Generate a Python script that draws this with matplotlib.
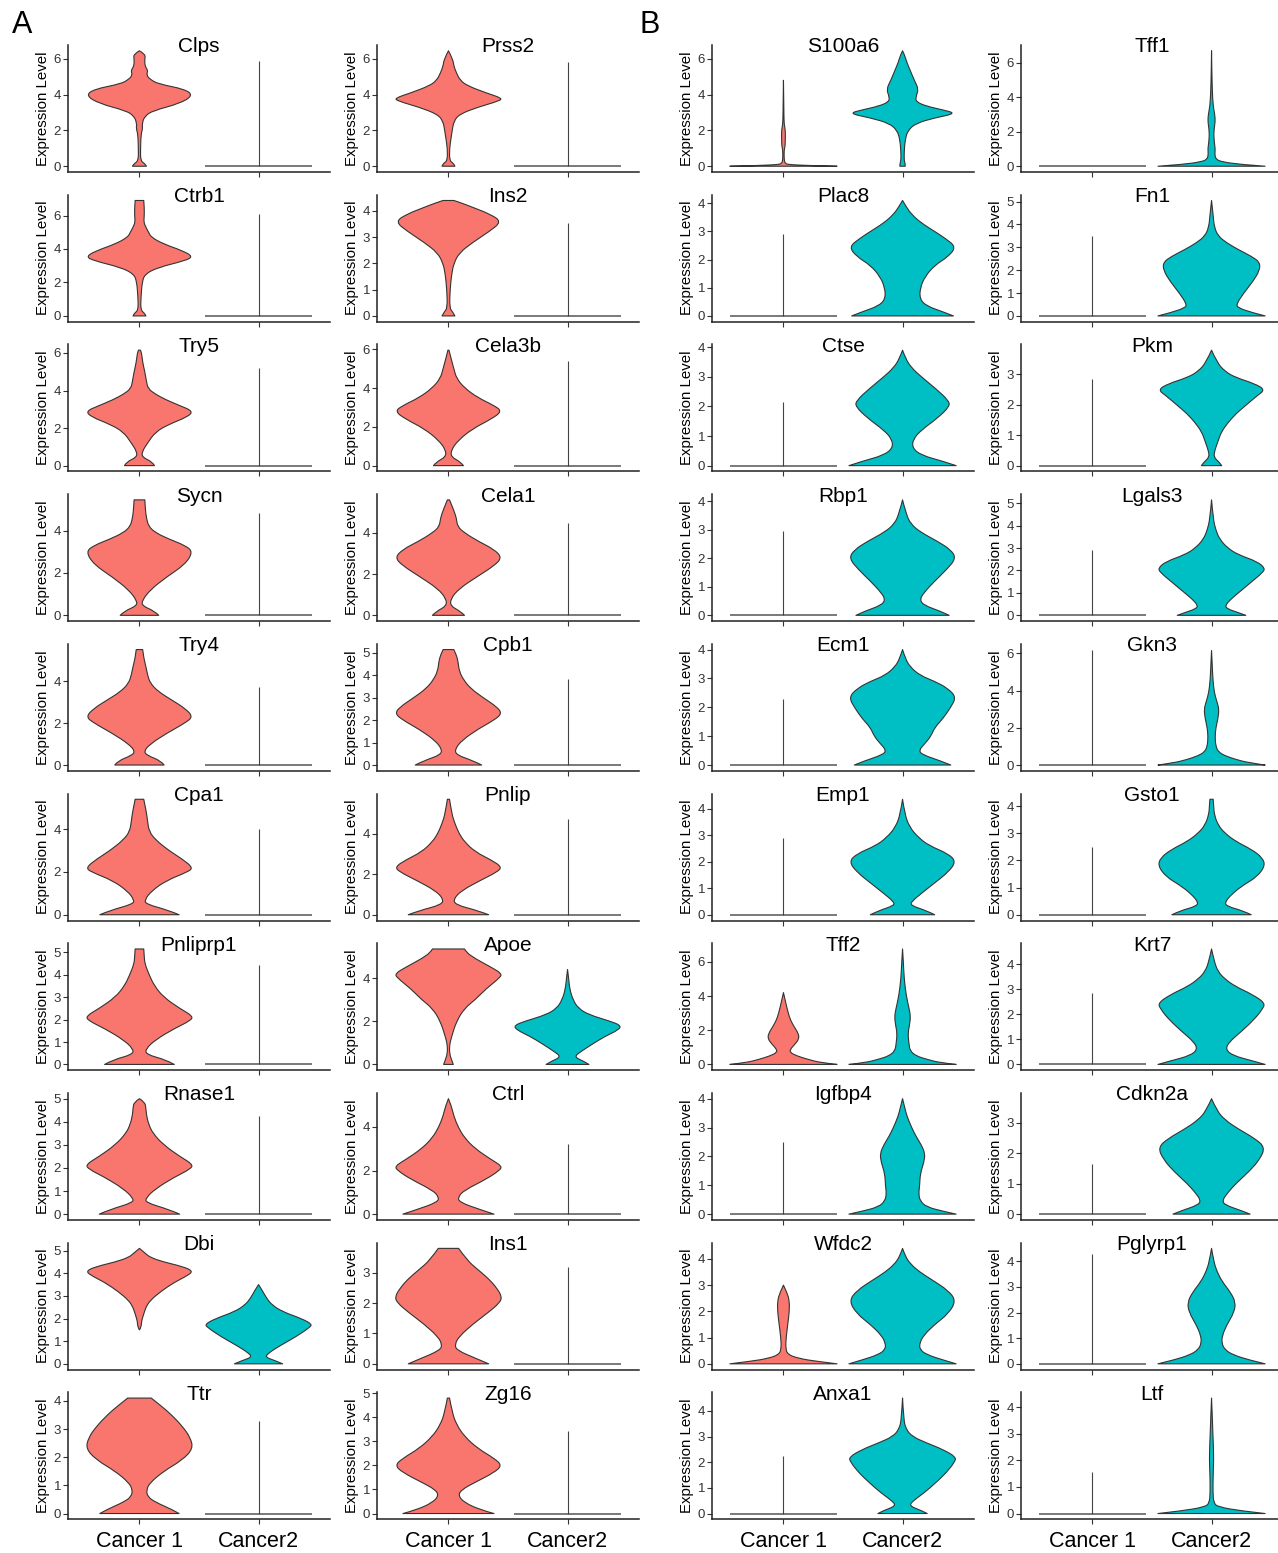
import numpy as np
import matplotlib
matplotlib.use("Agg")
import matplotlib.pyplot as plt
from matplotlib.path import Path
from matplotlib.patches import PathPatch

plt.rcParams["font.family"] = ["Liberation Sans", "DejaVu Sans"]

groups = ["Cancer 1", "Cancer2"]
red = "#F8766D"
teal = "#00BFC4"

# panel columns, top to bottom
col_a1 = ["Clps", "Ctrb1", "Try5", "Sycn", "Try4", "Cpa1", "Pnliprp1", "Rnase1", "Dbi", "Ttr"]
col_a2 = ["Prss2", "Ins2", "Cela3b", "Cela1", "Cpb1", "Pnlip", "Apoe", "Ctrl", "Ins1", "Zg16"]
col_b1 = ["S100a6", "Plac8", "Ctse", "Rbp1", "Ecm1", "Emp1", "Tff2", "Igfbp4", "Wfdc2", "Anxa1"]
col_b2 = ["Tff1", "Fn1", "Pkm", "Lgals3", "Gkn3", "Gsto1", "Krt7", "Cdkn2a", "Pglyrp1", "Ltf"]

# y tick step per panel
step_a1 = [2, 2, 2, 2, 2, 2, 1, 1, 1, 1]
step_a2 = [2, 1, 2, 2, 1, 2, 2, 2, 1, 1]
step_b1 = [2, 1, 1, 1, 1, 1, 2, 1, 1, 1]
step_b2 = [2, 1, 1, 1, 2, 1, 1, 1, 1, 1]

# violin outlines: (expression level, relative half width)
cancer1_shapes = {
    "Clps": [(0, 0.13), (0.12, 0.11), (0.3, 0.02), (1.0, 0.02), (1.8, 0.03), (2.1, 0.06), (2.4, 0.05),
             (2.8, 0.1), (3.1, 0.25), (3.5, 0.75), (3.95, 1.0), (4.3, 0.85), (4.6, 0.35), (4.85, 0.2),
             (5.1, 0.13), (5.35, 0.16), (5.6, 0.1), (6.0, 0.1), (6.25, 0.11), (6.45, 0.0)],
    "Ctrb1": [(0, 0.12), (0.15, 0.1), (0.35, 0.02), (1.2, 0.03), (2.0, 0.05), (2.5, 0.1), (2.9, 0.35),
              (3.3, 0.85), (3.55, 1.0), (3.9, 0.8), (4.3, 0.45), (4.7, 0.22), (5.0, 0.17), (5.3, 0.12),
              (5.6, 0.08), (6.0, 0.09), (6.5, 0.09), (6.9, 0.08)],
    "Try5": [(0, 0.28), (0.2, 0.24), (0.45, 0.05), (0.75, 0.05), (1.2, 0.15), (1.8, 0.3), (2.2, 0.55),
             (2.6, 0.9), (2.9, 1.0), (3.2, 0.75), (3.5, 0.5), (3.8, 0.3), (4.1, 0.16), (4.5, 0.13),
             (5.0, 0.1), (5.5, 0.06), (6.0, 0.04), (6.15, 0.02)],
    "Sycn": [(0, 0.36), (0.2, 0.28), (0.45, 0.05), (0.7, 0.05), (1.2, 0.2), (1.8, 0.5), (2.4, 0.85),
             (3.0, 1.0), (3.3, 0.85), (3.6, 0.55), (3.9, 0.3), (4.2, 0.17), (4.6, 0.13), (5.0, 0.11),
             (5.45, 0.1)],
    "Try4": [(0, 0.46), (0.2, 0.4), (0.45, 0.15), (0.65, 0.08), (1.0, 0.2), (1.5, 0.5), (2.0, 0.85),
             (2.3, 1.0), (2.7, 0.85), (3.1, 0.6), (3.5, 0.35), (3.9, 0.2), (4.3, 0.15), (4.7, 0.12),
             (5.1, 0.08), (5.5, 0.06)],
    "Cpa1": [(0, 0.74), (0.2, 0.55), (0.5, 0.12), (0.7, 0.1), (1.1, 0.22), (1.6, 0.5), (2.0, 0.9),
             (2.2, 1.0), (2.6, 0.8), (3.0, 0.55), (3.5, 0.3), (3.9, 0.18), (4.4, 0.15), (4.8, 0.13),
             (5.4, 0.08)],
    "Pnliprp1": [(0, 0.65), (0.2, 0.5), (0.45, 0.12), (0.7, 0.12), (1.1, 0.3), (1.6, 0.65), (1.95, 0.95),
                 (2.15, 1.0), (2.5, 0.75), (3.0, 0.45), (3.5, 0.28), (4.0, 0.18), (4.5, 0.1), (4.8, 0.09),
                 (5.15, 0.08)],
    "Rnase1": [(0, 0.75), (0.2, 0.55), (0.5, 0.12), (0.7, 0.12), (1.1, 0.3), (1.6, 0.65), (1.95, 0.95),
               (2.15, 1.0), (2.5, 0.75), (3.0, 0.45), (3.5, 0.25), (3.9, 0.17), (4.3, 0.13), (4.6, 0.12),
               (4.85, 0.1), (5.0, 0.0)],
    "Dbi": [(1.5, 0.0), (1.6, 0.03), (1.9, 0.04), (2.2, 0.08), (2.5, 0.12), (2.8, 0.2), (3.2, 0.4),
            (3.6, 0.65), (3.9, 0.9), (4.1, 1.0), (4.3, 0.8), (4.5, 0.45), (4.7, 0.2), (4.9, 0.1), (5.1, 0.0)],
    "Ttr": [(0, 0.74), (0.15, 0.6), (0.4, 0.3), (0.6, 0.15), (0.85, 0.13), (1.1, 0.2), (1.5, 0.45),
            (1.9, 0.8), (2.3, 1.0), (2.7, 0.95), (3.1, 0.8), (3.5, 0.6), (3.8, 0.42), (4.1, 0.22)],
    "Prss2": [(0, 0.12), (0.15, 0.1), (0.3, 0.02), (1.0, 0.02), (1.6, 0.05), (2.0, 0.07), (2.5, 0.1),
              (2.9, 0.2), (3.3, 0.55), (3.65, 0.95), (3.8, 1.0), (4.1, 0.7), (4.5, 0.35), (4.8, 0.22),
              (5.2, 0.15), (5.6, 0.1), (6.0, 0.08), (6.45, 0.0)],
    "Ins2": [(0, 0.12), (0.15, 0.08), (0.3, 0.02), (1.0, 0.03), (1.6, 0.06), (2.0, 0.1), (2.4, 0.2),
             (2.8, 0.45), (3.2, 0.75), (3.6, 1.0), (3.9, 0.75), (4.1, 0.5), (4.3, 0.25), (4.4, 0.1)],
    "Cela3b": [(0, 0.28), (0.2, 0.22), (0.45, 0.05), (0.8, 0.05), (1.3, 0.18), (1.9, 0.45), (2.4, 0.8),
               (2.8, 1.0), (3.1, 0.85), (3.5, 0.55), (4.0, 0.3), (4.5, 0.15), (5.0, 0.1), (5.5, 0.05),
               (5.95, 0.01)],
    "Cela1": [(0, 0.3), (0.2, 0.22), (0.45, 0.04), (0.8, 0.04), (1.3, 0.2), (1.9, 0.55), (2.4, 0.85),
              (2.8, 1.0), (3.2, 0.85), (3.6, 0.55), (4.0, 0.3), (4.3, 0.17), (4.7, 0.15), (5.1, 0.1),
              (5.6, 0.02)],
    "Cpb1": [(0, 0.62), (0.2, 0.45), (0.45, 0.15), (0.7, 0.12), (1.1, 0.25), (1.6, 0.55), (2.0, 0.85),
             (2.3, 1.0), (2.6, 0.9), (3.0, 0.65), (3.4, 0.42), (3.8, 0.28), (4.2, 0.2), (4.6, 0.18),
             (4.9, 0.15), (5.15, 0.1)],
    "Pnlip": [(0, 0.75), (0.2, 0.55), (0.5, 0.12), (0.8, 0.1), (1.2, 0.25), (1.7, 0.6), (2.1, 0.9),
              (2.35, 1.0), (2.7, 0.8), (3.1, 0.5), (3.6, 0.3), (4.0, 0.2), (4.5, 0.12), (5.0, 0.06),
              (5.7, 0.02)],
    "Apoe": [(0, 0.09), (0.2, 0.06), (0.5, 0.02), (0.9, 0.02), (1.3, 0.06), (2.0, 0.15), (2.6, 0.3),
             (3.0, 0.5), (3.5, 0.7), (4.0, 0.95), (4.2, 1.0), (4.5, 0.8), (4.9, 0.5), (5.2, 0.33),
             (5.35, 0.3)],
    "Ctrl": [(0, 0.85), (0.2, 0.6), (0.55, 0.2), (0.8, 0.18), (1.1, 0.3), (1.6, 0.7), (2.0, 0.95),
             (2.2, 1.0), (2.5, 0.8), (3.0, 0.5), (3.5, 0.3), (4.0, 0.18), (4.5, 0.1), (5.0, 0.05),
             (5.3, 0.0)],
    "Ins1": [(0, 0.75), (0.15, 0.55), (0.45, 0.15), (0.65, 0.12), (0.9, 0.2), (1.3, 0.45), (1.7, 0.75),
             (2.0, 0.95), (2.2, 1.0), (2.5, 0.9), (2.8, 0.75), (3.1, 0.55), (3.4, 0.35), (3.8, 0.19)],
    "Zg16": [(0, 0.85), (0.15, 0.6), (0.45, 0.3), (0.75, 0.18), (1.0, 0.25), (1.3, 0.5), (1.7, 0.85),
             (2.0, 1.0), (2.3, 0.85), (2.7, 0.55), (3.2, 0.3), (3.7, 0.15), (4.2, 0.07), (4.8, 0.02)],
    "S100a6": [(0, 1.0), (0.04, 0.45), (0.09, 0.12), (0.14, 0.03), (0.4, 0.012), (0.9, 0.012),
               (1.1, 0.03), (1.5, 0.035), (2.0, 0.035), (2.25, 0.02), (2.5, 0.01), (3.5, 0.006), (4.8, 0.0)],
    "Tff2": [(0, 1.0), (0.1, 0.7), (0.3, 0.45), (0.5, 0.25), (0.7, 0.12), (0.9, 0.13), (1.2, 0.22),
             (1.5, 0.29), (1.8, 0.28), (2.2, 0.2), (2.6, 0.13), (3.0, 0.09), (3.5, 0.05), (4.2, 0.0)],
    "Wfdc2": [(0, 1.0), (0.1, 0.6), (0.2, 0.3), (0.35, 0.08), (0.6, 0.04), (1.0, 0.05), (1.5, 0.08),
              (2.0, 0.11), (2.4, 0.11), (2.7, 0.07), (3.0, 0.0)],
}

cancer2_shapes = {
    "Dbi": [(0, 0.45), (0.15, 0.3), (0.3, 0.12), (0.5, 0.2), (0.8, 0.4), (1.2, 0.7), (1.6, 0.95),
            (1.75, 1.0), (2.0, 0.8), (2.3, 0.45), (2.6, 0.25), (2.9, 0.15), (3.2, 0.08), (3.5, 0.0)],
    "Apoe": [(0, 0.4), (0.15, 0.3), (0.35, 0.12), (0.6, 0.25), (1.0, 0.5), (1.3, 0.7), (1.6, 0.95),
             (1.8, 1.0), (2.0, 0.8), (2.3, 0.4), (2.6, 0.2), (3.0, 0.1), (3.5, 0.04), (4.0, 0.02), (4.4, 0.0)],
    "S100a6": [(0, 0.05), (0.15, 0.05), (0.3, 0.03), (0.8, 0.03), (1.5, 0.05), (2.0, 0.1), (2.4, 0.25),
               (2.7, 0.6), (2.95, 1.0), (3.15, 0.75), (3.35, 0.45), (3.6, 0.25), (3.9, 0.25), (4.3, 0.3),
               (4.8, 0.22), (5.3, 0.15), (5.8, 0.08), (6.2, 0.04), (6.45, 0.0)],
    "Plac8": [(0, 0.95), (0.15, 0.75), (0.35, 0.45), (0.6, 0.32), (1.0, 0.33), (1.4, 0.42), (1.8, 0.6),
              (2.1, 0.85), (2.45, 1.0), (2.75, 0.8), (3.0, 0.6), (3.3, 0.35), (3.6, 0.17), (3.9, 0.06),
              (4.1, 0.0)],
    "Ctse": [(0, 1.0), (0.15, 0.75), (0.35, 0.35), (0.6, 0.18), (0.9, 0.2), (1.2, 0.35), (1.6, 0.65),
             (2.0, 0.88), (2.2, 0.86), (2.6, 0.62), (3.0, 0.35), (3.3, 0.17), (3.6, 0.06), (3.9, 0.0)],
    "Rbp1": [(0, 0.87), (0.15, 0.7), (0.35, 0.4), (0.55, 0.32), (0.8, 0.4), (1.2, 0.6), (1.6, 0.82),
             (2.0, 1.0), (2.3, 0.9), (2.6, 0.65), (2.9, 0.35), (3.2, 0.15), (3.6, 0.06), (4.05, 0.0)],
    "Ecm1": [(0, 0.9), (0.15, 0.7), (0.35, 0.38), (0.5, 0.3), (0.75, 0.42), (1.0, 0.53), (1.3, 0.6),
             (1.6, 0.75), (2.0, 0.9), (2.35, 1.0), (2.65, 0.85), (2.9, 0.6), (3.1, 0.33), (3.4, 0.14),
             (3.7, 0.05), (4.0, 0.0)],
    "Emp1": [(0, 0.6), (0.15, 0.45), (0.35, 0.15), (0.5, 0.17), (0.8, 0.35), (1.2, 0.6), (1.6, 0.85),
             (2.0, 1.0), (2.3, 0.85), (2.6, 0.5), (2.9, 0.3), (3.3, 0.13), (3.8, 0.04), (4.35, 0.0)],
    "Tff2": [(0, 1.0), (0.1, 0.7), (0.3, 0.45), (0.5, 0.25), (0.8, 0.14), (1.2, 0.12), (1.8, 0.1),
             (2.3, 0.13), (2.8, 0.15), (3.3, 0.12), (4.0, 0.07), (5.0, 0.03), (6.0, 0.015), (6.75, 0.0)],
    "Igfbp4": [(0, 1.0), (0.1, 0.75), (0.25, 0.45), (0.45, 0.33), (0.7, 0.3), (1.0, 0.32), (1.4, 0.33),
               (1.8, 0.4), (2.1, 0.42), (2.4, 0.35), (2.7, 0.25), (3.0, 0.17), (3.4, 0.08), (3.7, 0.04),
               (4.0, 0.0)],
    "Wfdc2": [(0, 1.0), (0.15, 0.75), (0.35, 0.45), (0.55, 0.32), (0.8, 0.32), (1.1, 0.4), (1.5, 0.6),
              (1.9, 0.85), (2.4, 1.0), (2.8, 0.85), (3.2, 0.55), (3.5, 0.32), (3.8, 0.15), (4.1, 0.05),
              (4.4, 0.0)],
    "Anxa1": [(0, 0.46), (0.12, 0.35), (0.3, 0.12), (0.5, 0.2), (0.8, 0.4), (1.2, 0.62), (1.6, 0.82),
              (2.0, 0.97), (2.2, 1.0), (2.5, 0.75), (2.75, 0.45), (3.0, 0.18), (3.3, 0.06), (3.7, 0.02),
              (4.5, 0.0)],
    "Tff1": [(0, 1.0), (0.1, 0.55), (0.25, 0.2), (0.4, 0.08), (0.7, 0.06), (1.0, 0.07), (1.4, 0.05),
             (2.0, 0.04), (2.6, 0.07), (3.0, 0.06), (3.5, 0.03), (4.3, 0.015), (5.5, 0.005), (6.7, 0.0)],
    "Fn1": [(0, 1.0), (0.15, 0.75), (0.35, 0.5), (0.5, 0.46), (1.0, 0.6), (1.5, 0.77), (2.0, 0.9),
            (2.35, 0.9), (2.6, 0.75), (2.9, 0.5), (3.2, 0.28), (3.5, 0.12), (3.9, 0.05), (4.4, 0.03),
            (5.05, 0.0)],
    "Pkm": [(0, 0.19), (0.12, 0.14), (0.28, 0.04), (0.5, 0.06), (0.8, 0.12), (1.1, 0.18), (1.4, 0.3),
            (1.7, 0.45), (2.0, 0.65), (2.3, 0.85), (2.5, 1.0), (2.7, 0.8), (2.9, 0.45), (3.1, 0.25),
            (3.4, 0.1), (3.8, 0.0)],
    "Lgals3": [(0, 0.64), (0.12, 0.5), (0.3, 0.28), (0.45, 0.26), (0.7, 0.35), (1.1, 0.55), (1.5, 0.75),
               (1.9, 0.95), (2.1, 1.0), (2.4, 0.85), (2.7, 0.5), (3.0, 0.3), (3.4, 0.15), (3.8, 0.08),
               (4.3, 0.03), (5.15, 0.0)],
    "Gkn3": [(0, 1.0), (0.12, 0.7), (0.3, 0.45), (0.5, 0.25), (0.7, 0.13), (1.0, 0.08), (1.5, 0.065),
             (2.0, 0.08), (2.5, 0.12), (3.0, 0.14), (3.4, 0.1), (3.9, 0.05), (4.6, 0.025), (5.4, 0.012),
             (6.15, 0.0)],
    "Gsto1": [(0, 0.74), (0.15, 0.58), (0.3, 0.3), (0.45, 0.24), (0.8, 0.4), (1.1, 0.6), (1.4, 0.85),
              (1.8, 1.0), (2.1, 0.95), (2.4, 0.75), (2.7, 0.45), (3.0, 0.25), (3.3, 0.12), (3.7, 0.05),
              (4.0, 0.04), (4.25, 0.03)],
    "Krt7": [(0, 1.0), (0.15, 0.75), (0.35, 0.4), (0.6, 0.26), (0.9, 0.33), (1.3, 0.55), (1.8, 0.8),
             (2.2, 0.95), (2.45, 1.0), (2.8, 0.75), (3.1, 0.45), (3.4, 0.25), (3.7, 0.12), (4.1, 0.05),
             (4.6, 0.0)],
    "Cdkn2a": [(0, 0.72), (0.12, 0.55), (0.3, 0.25), (0.45, 0.2), (0.7, 0.3), (1.0, 0.45), (1.4, 0.7),
               (1.8, 0.9), (2.2, 1.0), (2.5, 0.8), (2.8, 0.5), (3.1, 0.25), (3.4, 0.1), (3.8, 0.0)],
    "Pglyrp1": [(0, 1.0), (0.15, 0.7), (0.35, 0.4), (0.55, 0.25), (0.8, 0.19), (1.1, 0.2), (1.5, 0.28),
                (2.0, 0.42), (2.4, 0.45), (2.8, 0.35), (3.2, 0.2), (3.6, 0.1), (4.0, 0.04), (4.5, 0.0)],
    "Ltf": [(0, 1.0), (0.1, 0.55), (0.25, 0.12), (0.4, 0.04), (0.8, 0.025), (1.5, 0.03), (2.0, 0.04),
            (2.5, 0.035), (3.0, 0.025), (3.6, 0.015), (4.35, 0.0)],
}

# groups with almost all cells at 0: flat line at 0 plus a thin spike up to the max value
cancer1_spikes = {
    "Plac8": 2.9, "Ctse": 2.15, "Rbp1": 2.95, "Ecm1": 2.3, "Emp1": 2.9, "Igfbp4": 2.5, "Anxa1": 2.25,
    "Tff1": 0.0, "Fn1": 3.5, "Pkm": 2.85, "Lgals3": 2.9, "Gkn3": 6.2, "Gsto1": 2.5, "Krt7": 2.85,
    "Cdkn2a": 1.65, "Pglyrp1": 4.3, "Ltf": 1.55,
}
cancer2_spikes = {
    "Clps": 5.9, "Ctrb1": 6.1, "Try5": 5.2, "Sycn": 4.85, "Try4": 3.7, "Cpa1": 4.0, "Pnliprp1": 4.45,
    "Rnase1": 4.25, "Ttr": 3.3, "Prss2": 5.85, "Ins2": 3.55, "Cela3b": 5.4, "Cela1": 4.5, "Cpb1": 3.85,
    "Pnlip": 4.75, "Ctrl": 3.2, "Ins1": 3.2, "Zg16": 3.45,
}


def smooth_side(pts):
    # quadratic bezier through the midpoints, the profile points act as control points
    verts, codes = [], []
    n = len(pts)
    for i in range(1, n - 1):
        end = (pts[i] + pts[i + 1]) / 2 if i < n - 2 else pts[i + 1]
        verts += [pts[i], end]
        codes += [Path.CURVE3, Path.CURVE3]
    if n == 2:
        verts, codes = [pts[1]], [Path.LINETO]
    return verts, codes


def draw_violin(ax, pos, shape, color):
    ys = np.array([p[0] for p in shape], dtype=float)
    ws = np.array([p[1] for p in shape], dtype=float) * 0.45
    right = np.column_stack([pos + ws, ys])
    left = np.column_stack([pos - ws, ys])[::-1]
    verts = [left[-1], right[0]]
    codes = [Path.MOVETO, Path.LINETO]
    v, c = smooth_side(right)
    verts += v
    codes += c
    verts.append(left[0])
    codes.append(Path.LINETO)
    v, c = smooth_side(left)
    verts += v
    codes += c
    verts.append(left[-1])
    codes.append(Path.CLOSEPOLY)
    patch = PathPatch(Path(np.array(verts), codes), facecolor=color, edgecolor="#333333",
                      lw=0.8, joinstyle="round", zorder=3)
    ax.add_patch(patch)


def draw_flat(ax, pos, spike):
    ax.hlines(0, pos - 0.45, pos + 0.45, color="#555555", lw=1.1, zorder=3)
    if spike > 0:
        ax.vlines(pos, 0, spike, color="#444444", lw=0.8, zorder=3)


W, H = 1278, 1553
fig = plt.figure(figsize=(W / 100, H / 100), dpi=100)

columns = [(col_a1, step_a1, 68), (col_a2, step_a2, 377), (col_b1, step_b1, 712), (col_b2, step_b2, 1021)]
ax_w, ax_h, row_pitch = 262, 127, 149.7

for genes, steps, left_px in columns:
    for r, (gene, step) in enumerate(zip(genes, steps)):
        bottom_px = 172 + row_pitch * r
        ax = fig.add_axes([left_px / W, 1 - bottom_px / H, ax_w / W, ax_h / H])

        tops = []
        for pos, shapes, spikes, color in [(1, cancer1_shapes, cancer1_spikes, red),
                                           (2, cancer2_shapes, cancer2_spikes, teal)]:
            if gene in shapes:
                draw_violin(ax, pos, shapes[gene], color)
                tops.append(max(p[0] for p in shapes[gene]))
            else:
                draw_flat(ax, pos, spikes[gene])
                tops.append(spikes[gene])
        top = max(tops)

        ax.set_xlim(0.4, 2.6)
        ax.set_ylim(-0.05 * top, 1.05 * top)
        yt = np.arange(0, 1.05 * top, step)
        ax.set_yticks(yt)
        ax.set_yticklabels([str(int(t)) for t in yt])
        ax.set_xticks([1, 2])
        if r == len(genes) - 1:
            ax.set_xticklabels(groups, fontsize=15.5, color="black")
            ax.tick_params(axis="x", pad=5)
        else:
            ax.set_xticklabels([])
        for side in ["top", "right"]:
            ax.spines[side].set_visible(False)
        for side in ["left", "bottom"]:
            ax.spines[side].set_linewidth(1.1)
            ax.spines[side].set_color("#222222")
        ax.tick_params(direction="out", length=3.5, width=0.8, color="#333333")
        ax.tick_params(axis="y", labelsize=9.5, labelcolor="#333333", pad=1.5)
        ax.set_ylabel("Expression Level", fontsize=10.8, labelpad=2.5)
        ax.patch.set_alpha(0)
        ax.text(0.5, 0.985, gene, transform=ax.transAxes, ha="center", va="center", fontsize=15)

fig.text(22 / W, 1 - 25 / H, "A", fontsize=22, ha="center", va="center")
fig.text(650 / W, 1 - 25 / H, "B", fontsize=22, ha="center", va="center")

fig.savefig("out.png", dpi=100)
